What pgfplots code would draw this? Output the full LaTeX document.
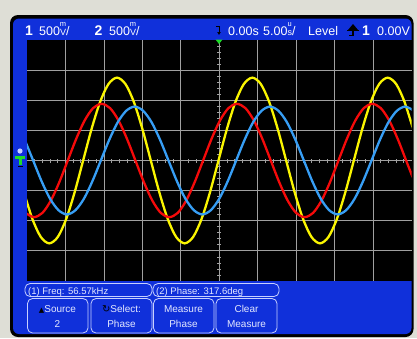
\documentclass[border=0pt]{standalone}
\usepackage{pgfplots}
\pgfplotsset{compat=1.18}
\usetikzlibrary{arrows.meta}
\usepackage{fontspec}
\setmainfont{Liberation Sans}
\newfontfamily\dejavu{DejaVu Sans}
\definecolor{bggray}{RGB}{222,222,214}
\definecolor{panelblue}{RGB}{16,48,218}
\definecolor{gridgray}{RGB}{160,160,160}
\definecolor{wyellow}{RGB}{250,245,0}
\definecolor{wred}{RGB}{245,10,10}
\definecolor{wblue}{RGB}{55,158,245}
\definecolor{boxline}{RGB}{200,208,255}
\definecolor{boxtext}{RGB}{228,232,255}
\definecolor{trgreen}{RGB}{30,220,40}
\newcommand{\stk}[2]{{\fontsize{9}{9}\selectfont\setbox0\hbox{#2}\rlap{\makebox[\wd0]{\raisebox{8.5pt}{\fontsize{7.5}{7.5}\selectfont#1}}}\box0}}
\begin{document}
\begin{tikzpicture}
\fill[bggray] (0,0) rectangle (417pt,-338pt);
\begin{scope}[x=1pt,y=-1pt]
\fill[black, rounded corners=8pt] (10,15) rectangle (413.5,337);
\fill[panelblue, rounded corners=6pt] (13,18.5) rectangle (411.5,334);
\fill[black] (27,40) rectangle (411.5,281);
\end{scope}
\begin{axis}[at={(27pt,-281pt)}, anchor=south west, scale only axis,
  width=384.5pt, height=241pt,
  xmin=-25, xmax=25, ymin=-4, ymax=4, enlargelimits=false,
  axis lines=middle, axis line style={draw=gridgray, line width=0.8pt, -},
  xtick={-20,-15,...,20}, ytick={-3,-2,...,3},
  minor xtick={-24,-23,...,24},
  minor ytick={-3.8,-3.6,-3.4,-3.2,-2.8,-2.6,-2.4,-2.2,-1.8,-1.6,-1.4,-1.2,-0.8,-0.6,-0.4,-0.2,0.2,0.4,0.6,0.8,1.2,1.4,1.6,1.8,2.2,2.4,2.6,2.8,3.2,3.4,3.6,3.8},
  grid=major, major grid style={gridgray, line width=0.8pt},
  xticklabels={}, yticklabels={},
  tick align=center, major tick length=4pt, minor tick length=4pt,
  tick style={gridgray, line width=0.8pt},
  clip=true]
\addplot[wyellow, line width=2.3pt, smooth] coordinates {
(-25.4,-1.05) (-24.3,-1.94) (-23.2,-2.54) (-22.1,-2.75) (-21.0,-2.54) (-19.9,-1.94) (-18.8,-1.05) (-17.7,0) (-16.6,1.05) (-15.5,1.94) (-14.4,2.54) (-13.3,2.75) (-12.2,2.54) (-11.1,1.94) (-10.0,1.05) (-8.9,0) (-7.8,-1.05) (-6.7,-1.94) (-5.6,-2.54) (-4.5,-2.75) (-3.4,-2.54) (-2.3,-1.94) (-1.2,-1.05) (-0.1,0) (1.0,1.05) (2.1,1.94) (3.2,2.54) (4.3,2.75) (5.4,2.54) (6.5,1.94) (7.6,1.05) (8.7,0) (9.8,-1.05) (10.9,-1.94) (12.0,-2.54) (13.1,-2.75) (14.2,-2.54) (15.3,-1.94) (16.4,-1.05) (17.5,0) (18.6,1.05) (19.7,1.94) (20.8,2.54) (21.9,2.75) (23.0,2.54) (24.1,1.94) (25.2,1.05)};
\addplot[wred, line width=2.3pt, smooth] coordinates {
(-25.2,-1.74) (-24.1,-1.88) (-23.0,-1.74) (-21.9,-1.33) (-20.8,-0.72) (-19.7,0) (-18.6,0.72) (-17.5,1.33) (-16.4,1.74) (-15.3,1.88) (-14.2,1.74) (-13.1,1.33) (-12.0,0.72) (-10.9,0) (-9.8,-0.72) (-8.7,-1.33) (-7.6,-1.74) (-6.5,-1.88) (-5.4,-1.74) (-4.3,-1.33) (-3.2,-0.72) (-2.1,0) (-1.0,0.72) (0.1,1.33) (1.2,1.74) (2.3,1.88) (3.4,1.74) (4.5,1.33) (5.6,0.72) (6.7,0) (7.8,-0.72) (8.9,-1.33) (10.0,-1.74) (11.1,-1.88) (12.2,-1.74) (13.3,-1.33) (14.4,-0.72) (15.5,0) (16.6,0.72) (17.7,1.33) (18.8,1.74) (19.9,1.88) (21.0,1.74) (22.1,1.33) (23.2,0.72) (24.3,0) (25.4,-0.72)};
\addplot[wblue, line width=2.3pt, smooth] coordinates {
(-25.3,0.69) (-24.2,0) (-23.1,-0.69) (-22.0,-1.27) (-20.9,-1.65) (-19.8,-1.79) (-18.7,-1.65) (-17.6,-1.27) (-16.5,-0.69) (-15.4,0) (-14.3,0.69) (-13.2,1.27) (-12.1,1.65) (-11.0,1.79) (-9.9,1.65) (-8.8,1.27) (-7.7,0.69) (-6.6,0) (-5.5,-0.69) (-4.4,-1.27) (-3.3,-1.65) (-2.2,-1.79) (-1.1,-1.65) (0.0,-1.27) (1.1,-0.69) (2.2,0) (3.3,0.69) (4.4,1.27) (5.5,1.65) (6.6,1.79) (7.7,1.65) (8.8,1.27) (9.9,0.69) (11.0,0) (12.1,-0.69) (13.2,-1.27) (14.3,-1.65) (15.4,-1.79) (16.5,-1.65) (17.6,-1.27) (18.7,-0.69) (19.8,0) (20.9,0.69) (22.0,1.27) (23.1,1.65) (24.2,1.79) (25.3,1.65)};
\end{axis}
\begin{scope}[x=1pt,y=-1pt]
% header
\begin{scope}[every node/.style={anchor=base west, inner sep=0pt, text=white, font=\fontsize{12.5}{13}\selectfont}]
\node[font=\fontsize{14}{14}\selectfont\bfseries] at (25,35) {1};
\node at (39,35) {500\stk{m}{V}/};
\node[font=\fontsize{14}{14}\selectfont\bfseries] at (94.5,35) {2};
\node at (109,35) {500\stk{m}{V}/};
\node at (228,35) {0.00s};
\node at (263,35) {5.00\stk{u}{s}/};
\node at (308,35) {Level};
\node[font=\fontsize{14}{14}\selectfont\bfseries] at (362,35) {1};
\node at (377,35) {0.00V};
\end{scope}
% trigger position icon
\draw[black, line width=1pt, -{Latex[length=3pt,width=4pt]}] (219,26) -- (219,35);
\draw[black, line width=0.8pt] (216,26.5) -- (219,26.5);
% trigger edge icon
\fill[black] (348,30) -- (353,24) -- (358,30) -- cycle;
\draw[black, line width=1.2pt] (353,29) -- (353,36);
\draw[black, line width=1.2pt] (347,30.5) -- (359,30.5);
\draw[black, line width=1pt] (349,35.5) -- (353,35.5);
% green trigger marker
\fill[trgreen] (215.5,39.5) -- (222.5,39.5) -- (219,44) -- cycle;
% ground marker
\fill[boxline] (20,151) circle (2.6);
\fill[trgreen] (15,155.5) rectangle (25,158.5);
\fill[trgreen] (18.5,155.5) rectangle (21.5,165);
\draw[black, line width=0.8pt] (18,166.5) -- (23,166.5);
% measurement boxes
\begin{scope}[every node/.style={inner sep=0pt, text=boxtext, font=\fontsize{10}{12}\selectfont}]
\draw[boxline, line width=0.8pt, rounded corners=5pt] (25,283.5) rectangle (152,296.5);
\draw[boxline, line width=0.8pt, rounded corners=5pt] (153,283.5) rectangle (279,296.5);
\node[anchor=base west, font=\fontsize{9.5}{12}\selectfont] at (28,294) {(1) Freq: 56.57kHz};
\node[anchor=base west, font=\fontsize{9.5}{12}\selectfont] at (156,294) {(2) Phase: 317.6deg};
\draw[boxline, line width=0.8pt, rounded corners=5pt] (27.5,298.5) rectangle (88,333);
\draw[boxline, line width=0.8pt, rounded corners=5pt] (91,298.5) rectangle (152,333);
\draw[boxline, line width=0.8pt, rounded corners=5pt] (153.5,298.5) rectangle (214,333);
\draw[boxline, line width=0.8pt, rounded corners=5pt] (216,298.5) rectangle (277,333);
\node[anchor=base] at (57.5,312.5) {{\color{black}\fontsize{7}{8}\selectfont\dejavu ▲}Source};
\node[anchor=base] at (57.5,327.5) {2};
\node[anchor=base] at (121.5,312.5) {{\color{black}\dejavu ↻}Select:};
\node[anchor=base] at (121.5,327.5) {Phase};
\node[anchor=base] at (183.5,312.5) {Measure};
\node[anchor=base] at (183.5,327.5) {Phase};
\node[anchor=base] at (246.5,312.5) {Clear};
\node[anchor=base] at (246.5,327.5) {Measure};
\end{scope}
\end{scope}
\pgfresetboundingbox
\path[use as bounding box] (0,0) rectangle (417pt,-338pt);
\end{tikzpicture}
\end{document}
